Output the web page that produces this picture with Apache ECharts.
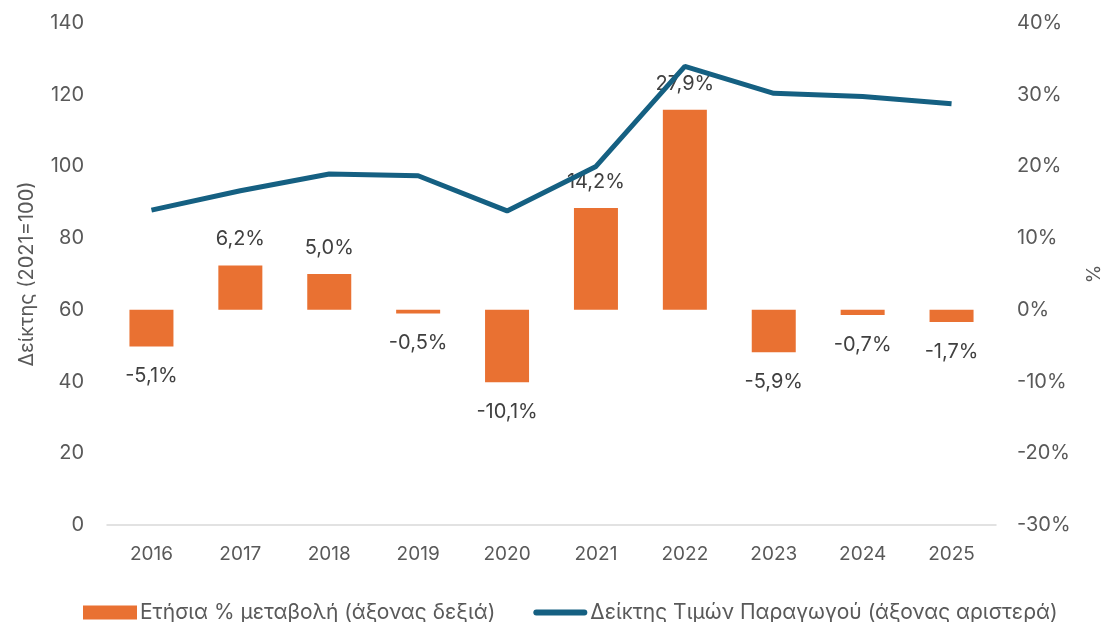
<!DOCTYPE html>
<html>
<head>
<meta charset="utf-8">
<script src="https://cdn.jsdelivr.net/npm/echarts@6/dist/echarts.min.js"></script>
<style>
  html, body { margin: 0; padding: 0; background: #fff; }
  #chart { width: 1102px; height: 622px; }
</style>
</head>
<body>
<div id="chart"></div>
<script>
// δεδομένα
const years = ['2016', '2017', '2018', '2019', '2020', '2021', '2022', '2023', '2024', '2025']
const yoyChange = [-5.1, 6.2, 5.0, -0.5, -10.1, 14.2, 27.9, -5.9, -0.7, -1.7]
const priceIndex = [87.8, 93.2, 97.9, 97.4, 87.6, 100, 127.9, 120.4, 119.5, 117.5]
const barName = 'Ετήσια % μεταβολή (άξονας δεξιά)'
const lineName = 'Δείκτης Τιμών Παραγωγού (άξονας αριστερά)'

const fontFamily = 'Inter, "Noto Sans", sans-serif'
const axisColor = '#595959'
const labelColor = '#404040'

const chart = echarts.init(document.getElementById('chart'))

const option = {
  animation: false,
  textStyle: { fontFamily: fontFamily },
  grid: { left: 107, right: 106, top: 23, bottom: 97, outerBoundsMode: 'none' },
  legend: {
    left: 78,
    top: 597,
    itemGap: 38,
    itemWidth: 54,
    itemHeight: 14,
    textStyle: { color: axisColor, fontSize: 21, fontFamily: fontFamily, padding: [0, 0, 0, -2] },
    data: [
      { name: barName, icon: 'rect' },
      { name: lineName, icon: 'path://M3,0 H51 A3,3 0 0 1 51,6 H3 A3,3 0 0 1 3,0 Z' }
    ]
  },
  xAxis: {
    type: 'category',
    data: years,
    axisLine: { lineStyle: { color: '#d9d9d9', width: 1.5 } },
    axisTick: { show: false },
    axisLabel: { color: axisColor, fontSize: 19, margin: 20 }
  },
  yAxis: [
    {
      type: 'value',
      min: 0,
      max: 140,
      interval: 20,
      name: 'Δείκτης (2021=100)',
      nameLocation: 'middle',
      nameGap: 70,
      nameRotate: 90,
      nameTextStyle: { color: axisColor, fontSize: 20 },
      axisLine: { show: false },
      axisTick: { show: false },
      splitLine: { show: false },
      axisLabel: { color: axisColor, fontSize: 20, margin: 23 }
    },
    {
      type: 'value',
      min: -30,
      max: 40,
      interval: 10,
      name: '%',
      nameLocation: 'middle',
      nameGap: 89,
      nameRotate: 90,
      nameTextStyle: { color: axisColor, fontSize: 19 },
      axisLine: { show: false },
      axisTick: { show: false },
      splitLine: { show: false },
      axisLabel: { color: axisColor, fontSize: 20, margin: 21, formatter: v => v + '%' }
    }
  ],
  series: [
    {
      name: barName,
      type: 'bar',
      yAxisIndex: 1,
      barWidth: 44,
      itemStyle: { color: '#E97132' },
      data: yoyChange.map(v => ({
        value: v,
        label: { position: v < 0 ? 'bottom' : 'top', distance: v < 0 ? 20 : 16 }
      })),
      label: {
        show: true,
        color: labelColor,
        fontSize: 20,
        formatter: p => p.value.toFixed(1).replace('.', ',') + '%'
      },
      z: 1
    },
    {
      name: lineName,
      type: 'line',
      yAxisIndex: 0,
      data: priceIndex,
      symbol: 'none',
      lineStyle: { color: '#156082', width: 5 },
      itemStyle: { color: '#156082' },
      z: 2
    }
  ]
}

chart.setOption(option)
</script>
</body>
</html>
